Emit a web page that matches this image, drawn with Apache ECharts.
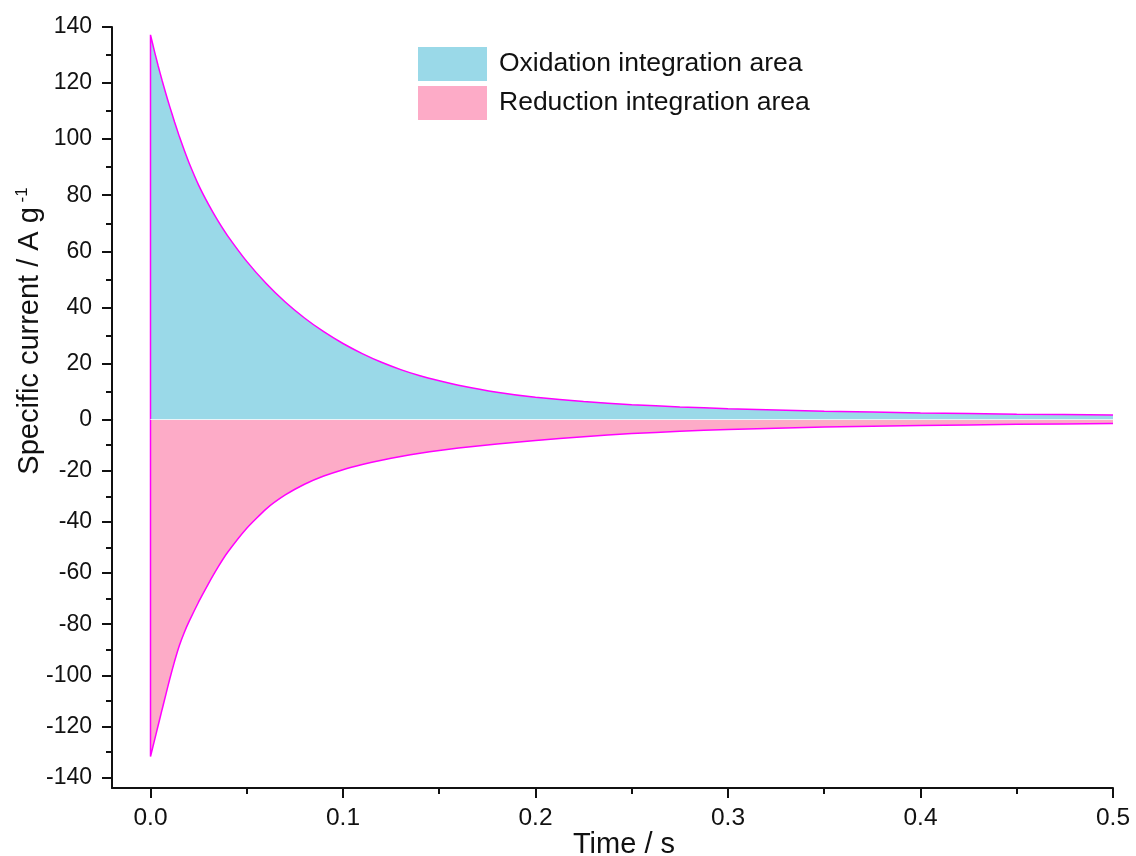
<!DOCTYPE html>
<html>
<head>
<meta charset="utf-8">
<script src="https://cdn.jsdelivr.net/npm/echarts@6/dist/echarts.min.js"></script>
<style>
  html, body { margin: 0; padding: 0; background: #ffffff; }
  #chart { width: 1136px; height: 856px; }
</style>
</head>
<body>
<div id="chart"></div>
<script>
// Chronoamperometric current transients (specific current vs. time)
const times = [0, 0, 0.002, 0.004, 0.006, 0.008, 0.01, 0.0125, 0.015, 0.0175, 0.02, 0.025, 0.03, 0.035, 0.04, 0.05, 0.06, 0.07, 0.08, 0.09, 0.1, 0.11, 0.12, 0.13, 0.14, 0.15, 0.16, 0.18, 0.2, 0.225, 0.25, 0.275, 0.3, 0.35, 0.4, 0.45, 0.5];
const oxidation = [0, 137.2, 131.5, 126.1, 121.0, 116.2, 111.6, 106.1, 100.9, 96.1, 91.6, 83.6, 76.9, 70.9, 65.6, 56.4, 48.6, 41.9, 36.2, 31.3, 27.1, 23.5, 20.4, 17.8, 15.6, 13.8, 12.2, 9.7, 7.9, 6.4, 5.3, 4.5, 3.85, 2.95, 2.35, 1.9, 1.6];
const reduction = [0, -131.7, -125.6, -119.5, -113.4, -107.4, -101.4, -94.5, -88.3, -83.3, -79.0, -71.3, -64.3, -57.8, -52.0, -42.5, -35.0, -29.5, -25.3, -22.1, -19.6, -17.6, -15.9, -14.45, -13.2, -12.1, -11.15, -9.55, -8.25, -6.7, -5.5, -4.6, -3.9, -2.95, -2.35, -1.9, -1.6];

const seriesNames = ['Oxidation integration area', 'Reduction integration area'];
const xMajorTicks = [0, 0.1, 0.2, 0.3, 0.4, 0.5];
const xMinorTicks = [0.05, 0.15, 0.25, 0.35, 0.45];
const yNegMajorTicks = [-140, -120, -100, -80, -60, -40, -20];
const yNegMinorTicks = [-130, -110, -90, -70, -50, -30, -10];

const FONT = "'Liberation Sans', Arial, sans-serif";
const INK = '#111111';
const CYAN = '#9AD9E8';
const PINK = '#FDABC7';
const MAGENTA = '#FF00FF';

const pairs = (vals) => times.map((t, i) => [t, vals[i]]);

const axisLineStyle = { show: true, onZero: false, lineStyle: { color: INK, width: 2 } };
const xMin = -0.02, xMax = 0.5;

const chart = echarts.init(document.getElementById('chart'), null, { renderer: 'canvas' });

chart.setOption({
  animation: false,
  backgroundColor: '#ffffff',
  textStyle: { fontFamily: FONT },
  grid: [
    { left: 112, right: 23, top: 27, height: 392.5 },
    { left: 112, right: 23, top: 419.5, height: 368.5 }
  ],
  xAxis: [
    { // upper panel: shares the time scale, drawn without its own axis
      gridIndex: 0, type: 'value', min: xMin, max: xMax,
      axisLine: { show: false, onZero: false }, axisTick: { show: false },
      axisLabel: { show: false }, splitLine: { show: false }
    },
    { // time axis with major ticks
      gridIndex: 1, type: 'value', min: xMin, max: xMax, position: 'bottom',
      axisLine: axisLineStyle,
      axisTick: { show: true, inside: false, length: 10, customValues: xMajorTicks,
                  lineStyle: { color: INK, width: 2 } },
      axisLabel: { show: true, customValues: xMajorTicks, margin: 18,
                   fontSize: 24.5, color: INK, fontFamily: FONT,
                   formatter: (v) => v.toFixed(1) },
      splitLine: { show: false }
    },
    { // time axis minor ticks
      gridIndex: 1, type: 'value', min: xMin, max: xMax, position: 'bottom',
      axisLine: { show: false, onZero: false },
      axisTick: { show: true, inside: false, length: 6, customValues: xMinorTicks,
                  lineStyle: { color: INK, width: 2 } },
      axisLabel: { show: false }, splitLine: { show: false }
    }
  ],
  yAxis: [
    { // positive current range
      gridIndex: 0, type: 'value', min: 0, max: 140, interval: 20, position: 'left',
      axisLine: axisLineStyle,
      axisTick: { show: true, inside: false, length: 10, lineStyle: { color: INK, width: 2 } },
      minorTick: { show: true, splitNumber: 2, length: 6, lineStyle: { color: INK, width: 2 } },
      axisLabel: { show: true, margin: 20, fontSize: 23, color: INK, fontFamily: FONT },
      splitLine: { show: false }
    },
    { // negative current range, major ticks
      gridIndex: 1, type: 'value', min: -144, max: 0, position: 'left',
      axisLine: axisLineStyle,
      axisTick: { show: true, inside: false, length: 10, customValues: yNegMajorTicks,
                  lineStyle: { color: INK, width: 2 } },
      axisLabel: { show: true, customValues: yNegMajorTicks, margin: 20,
                   fontSize: 23, color: INK, fontFamily: FONT },
      splitLine: { show: false }
    },
    { // negative current range, minor ticks
      gridIndex: 1, type: 'value', min: -144, max: 0, position: 'left',
      axisLine: { show: false, onZero: false },
      axisTick: { show: true, inside: false, length: 6, customValues: yNegMinorTicks,
                  lineStyle: { color: INK, width: 2 } },
      axisLabel: { show: false }, splitLine: { show: false }
    }
  ],
  legend: {
    orient: 'vertical', left: 413, top: 42,
    itemWidth: 69, itemHeight: 34, itemGap: 5, icon: 'rect',
    textStyle: { fontSize: 26.5, color: INK, fontFamily: FONT, padding: [0, 0, 0, 7] },
    data: [
      { name: seriesNames[0], itemStyle: { color: CYAN, borderWidth: 0 } },
      { name: seriesNames[1], itemStyle: { color: PINK, borderWidth: 0 } }
    ]
  },
  graphic: [
    {
      type: 'text', x: 30, y: 331, rotation: Math.PI / 2,
      style: {
        text: '{m|Specific current / A g}{s| -1}',
        align: 'center', verticalAlign: 'middle', fill: INK,
        rich: {
          m: { fontSize: 29, fontFamily: FONT, fill: INK, lineHeight: 33 },
          s: { fontSize: 17, fontFamily: FONT, fill: INK, verticalAlign: 'top', lineHeight: 33 }
        }
      }
    },
    {
      type: 'text', x: 624, y: 845,
      style: {
        text: 'Time / s', fontSize: 29, fontFamily: FONT, fill: INK,
        align: 'center', verticalAlign: 'middle'
      }
    }
  ],
  series: [
    {
      name: seriesNames[0], type: 'line', xAxisIndex: 0, yAxisIndex: 0,
      data: pairs(oxidation), showSymbol: false, symbol: 'none', smooth: 0.15,
      color: CYAN,
      lineStyle: { color: MAGENTA, width: 1.5 },
      areaStyle: { color: CYAN, opacity: 1, origin: 'start' },
      markLine: {
        silent: true, symbol: 'none', label: { show: false },
        lineStyle: { color: '#eaf5f8', width: 1.2, type: 'solid' },
        data: [[{ coord: [times[0], 0] }, { coord: [times[times.length - 1], 0] }]]
      },
      z: 3
    },
    {
      name: seriesNames[1], type: 'line', xAxisIndex: 1, yAxisIndex: 1,
      data: pairs(reduction), showSymbol: false, symbol: 'none', smooth: 0.15,
      color: PINK,
      lineStyle: { color: MAGENTA, width: 1.5 },
      areaStyle: { color: PINK, opacity: 1, origin: 'end' },
      z: 2
    }
  ]
});
</script>
</body>
</html>
